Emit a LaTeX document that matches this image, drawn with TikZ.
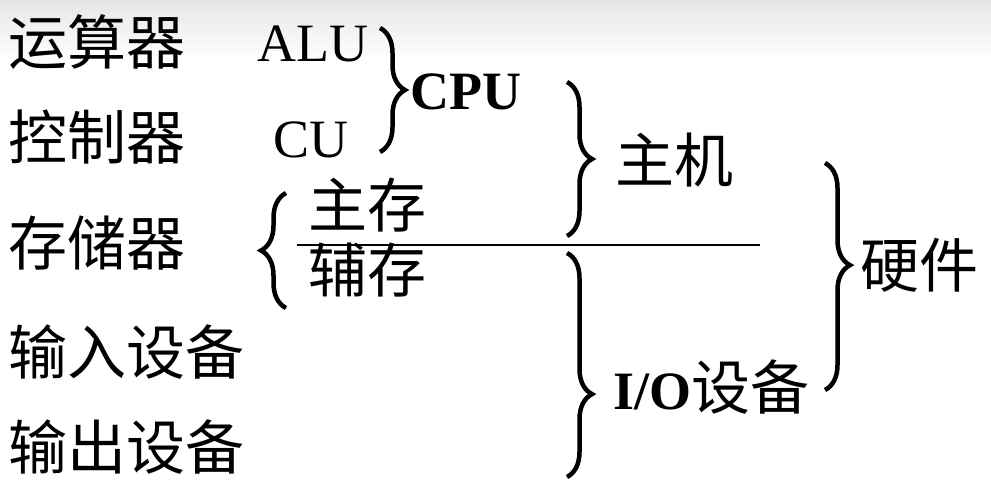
\documentclass[tikz,border=0pt]{standalone}
\usepackage{fontspec}
\setmainfont{Liberation Serif}
\newfontfamily\cjk{Noto Sans CJK SC}
\usetikzlibrary{decorations.pathreplacing}
\begin{document}
\begin{tikzpicture}[x=1pt,y=-1pt,
  lat/.style={anchor=west,inner sep=0pt,font=\fontsize{54}{60}\selectfont},
  zh/.style={anchor=west,inner sep=0pt,font=\cjk\fontsize{59}{64}\selectfont},
  br/.style={decorate,decoration={brace,amplitude=#1},line width=4.5pt},
  br/.default=24pt,
  sep/.style={line width=1.2pt}
]
\useasboundingbox (0,0) rectangle (991,482);
\shade[top color=black!10,bottom color=white] (0,0) rectangle (991,60);
\fill[white] (0,60) rectangle (991,482);

% left column
\node[zh] (alu-zh) at (8,42) {运算器};
\node[zh] (cu-zh) at (8,137) {控制器};
\node[zh] (mem-zh) at (8,243) {存储器};
\node[zh] (in-zh) at (8,352) {输入设备};
\node[zh] (out-zh) at (8,447) {输出设备};

% ALU / CU
\node[lat] (alu) at (257,44) {ALU};
\node[lat] (cu) at (273,140) {CU};
\coordinate (b1t) at (380,28);
\coordinate (b1b) at (380,152);
\draw[br=25pt] (b1t) -- (b1b);
\node[lat,font=\fontsize{54}{60}\selectfont\bfseries] (cpu) at (410,92) {CPU};

% memory
\coordinate (blb) at (286,308);
\coordinate (blt) at (286,193);
\draw[br=25pt] (blb) -- (blt);
\node[zh] (zhucun) at (308,205) {主存};
\node[zh] (fucun) at (308,270) {辅存};
\coordinate (l1) at (297,245);
\coordinate (l2) at (760,245);
\draw[sep] (l1) -- (l2);

% host
\coordinate (b2t) at (567,82);
\coordinate (b2b) at (567,236);
\draw[br=25pt] (b2t) -- (b2b);
\node[zh] (host) at (615,160) {主机};

% I/O
\coordinate (b3t) at (567,253);
\coordinate (b3b) at (567,477);
\draw[br=25pt,decoration={aspect=0.63}] (b3t) -- (b3b);
\node[lat] (io) at (613,387) {\textbf{I/O}{\cjk\fontsize{59}{64}\selectfont 设备}};

% hardware
\coordinate (b4t) at (825,163);
\coordinate (b4b) at (825,390);
\draw[br=25pt,decoration={aspect=0.45}] (b4t) -- (b4b);
\node[zh] (hw) at (860,265) {硬件};
\end{tikzpicture}
\end{document}
